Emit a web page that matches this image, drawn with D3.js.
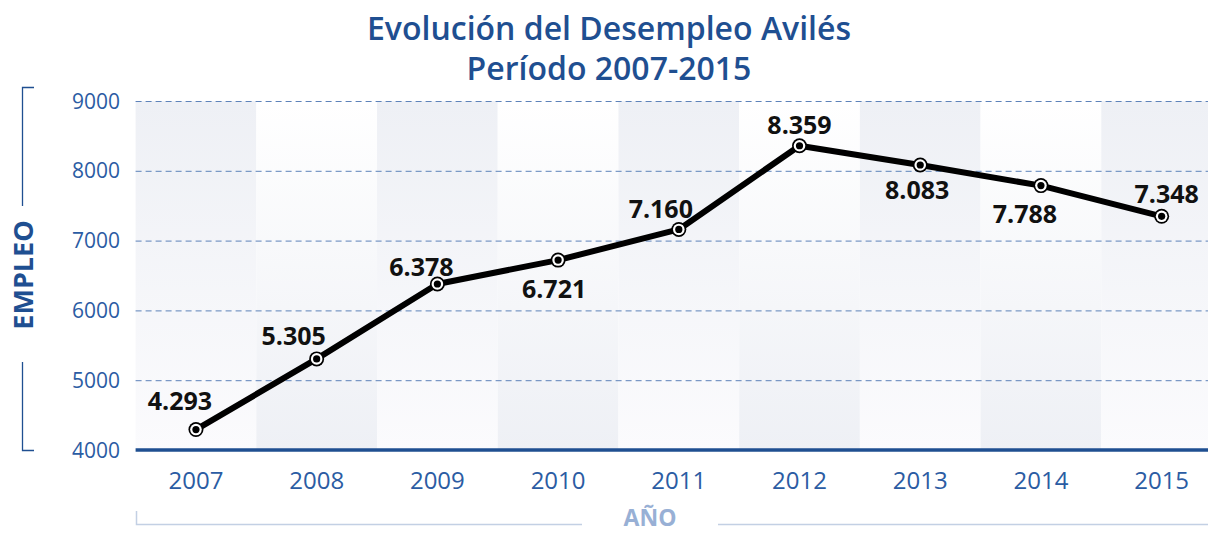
<!DOCTYPE html>
<html>
<head>
<meta charset="utf-8">
<script src="https://cdn.jsdelivr.net/npm/d3@7"></script>
<style>
  body { margin: 0; background: #fff; }
  svg { display: block; font-family: "Open Sans", "Noto Sans", sans-serif; }
</style>
</head>
<body>
<svg width="1208" height="533"></svg>
<script>
// data
const years = ["2007", "2008", "2009", "2010", "2011", "2012", "2013", "2014", "2015"];
const paro = [4293, 5305, 6378, 6721, 7160, 8359, 8083, 7788, 7348];
const yTicks = [4000, 5000, 6000, 7000, 8000, 9000];
// where each value label sits relative to its point (dx, dy of baseline)
const labelPos = [[-16, -20], [-23, -14], [-16, -8], [-4, 38], [-18, -11], [0, -12], [-3, 34], [-16, 37], [5, -13]];

const svg = d3.select("svg"),
    width = +svg.attr("width"),
    height = +svg.attr("height");

const blue = "#1f4f91";
const tickBlue = "#2b5ca3";

const x = d3.scaleBand()
    .domain(years)
    .range([135.6, 1222])
    .padding(0);
const y = d3.scaleLinear()
    .domain([4000, 9000])
    .range([450, 101]);

const fmt = d3.formatLocale({ decimal: ",", thousands: ".", grouping: [3], currency: ["", "€"] }).format(",d");

// gradients for alternating columns
const defs = svg.append("defs");
const gDown = defs.append("linearGradient").attr("id", "gradDown")
    .attr("x1", 0).attr("y1", 0).attr("x2", 0).attr("y2", 1);
gDown.append("stop").attr("offset", "0%").attr("stop-color", "#eef0f5");
gDown.append("stop").attr("offset", "100%").attr("stop-color", "#fbfbfd");
const gUp = defs.append("linearGradient").attr("id", "gradUp")
    .attr("x1", 0).attr("y1", 0).attr("x2", 0).attr("y2", 1);
gUp.append("stop").attr("offset", "0%").attr("stop-color", "#ffffff");
gUp.append("stop").attr("offset", "100%").attr("stop-color", "#eef0f5");

svg.append("g")
  .selectAll("rect")
  .data(years)
  .enter()
  .append("rect")
    .attr("x", d => x(d))
    .attr("y", y(9000))
    .attr("width", x.bandwidth())
    .attr("height", y(4000) - y(9000))
    .attr("fill", (d, i) => i % 2 === 0 ? "url(#gradDown)" : "url(#gradUp)");

// grid lines
svg.append("g")
  .selectAll("line")
  .data(yTicks.slice(1))
  .enter()
  .append("line")
    .attr("x1", x.range()[0])
    .attr("x2", width)
    .attr("y1", d => y(d) + 0.5)
    .attr("y2", d => y(d) + 0.5)
    .attr("stroke", "#5d82b9")
    .attr("stroke-width", 1)
    .attr("stroke-dasharray", "6,4");

// baseline
svg.append("line")
    .attr("x1", x.range()[0])
    .attr("x2", width)
    .attr("y1", y(4000))
    .attr("y2", y(4000))
    .attr("stroke", blue)
    .attr("stroke-width", 3.5);

// y tick labels
svg.append("g")
  .selectAll("text")
  .data(yTicks)
  .enter()
  .append("text")
    .attr("x", 120)
    .attr("y", d => y(d) + 7.5)
    .attr("text-anchor", "end")
    .style("font-size", "21px")
    .style("fill", tickBlue)
    .text(d => d);

// x tick labels
svg.append("g")
  .selectAll("text")
  .data(years)
  .enter()
  .append("text")
    .attr("x", d => x(d) + x.bandwidth() / 2)
    .attr("y", 489)
    .attr("text-anchor", "middle")
    .style("font-size", "24px")
    .style("fill", tickBlue)
    .text(d => d);

// title
const title = svg.append("text")
    .attr("x", 609)
    .attr("text-anchor", "middle")
    .style("font-size", "32px")
    .style("font-weight", "600")
    .style("fill", blue);
title.append("tspan").attr("x", 609).attr("y", 40).text("Evolución del Desempleo Avilés");
title.append("tspan").attr("x", 609).attr("y", 80).text("Período 2007-2015");

// y axis bracket and label
svg.append("path")
    .attr("d", "M34,87.5 H22.5 V206 M22.5,362 V450.5 H34")
    .attr("fill", "none")
    .attr("stroke", blue)
    .attr("stroke-width", 1.3);
svg.append("text")
    .attr("transform", "translate(33,275) rotate(-90)")
    .attr("text-anchor", "middle")
    .style("font-size", "27px")
    .style("font-weight", "bold")
    .style("fill", blue)
    .text("EMPLEO");

// x axis bracket and label
svg.append("path")
    .attr("d", "M136.5,511 V524.5 H582 M718,524.5 H1208")
    .attr("fill", "none")
    .attr("stroke", "#c3d0e4")
    .attr("stroke-width", 1.5);
svg.append("text")
    .attr("x", 650)
    .attr("y", 526)
    .attr("text-anchor", "middle")
    .style("font-size", "23px")
    .style("font-weight", "bold")
    .style("fill", "#98b0d5")
    .text("AÑO");

// line
const pts = years.map((d, i) => ({ year: d, value: paro[i], pos: labelPos[i] }));
const line = d3.line()
    .x(d => x(d.year) + x.bandwidth() / 2)
    .y(d => y(d.value));

svg.append("path")
    .datum(pts)
    .attr("d", line)
    .attr("fill", "none")
    .attr("stroke", "#000")
    .attr("stroke-width", 6)
    .attr("stroke-linejoin", "round");

// markers
const mk = svg.append("g")
  .selectAll("g")
  .data(pts)
  .enter()
  .append("g")
    .attr("transform", d => `translate(${x(d.year) + x.bandwidth() / 2},${y(d.value)})`);
mk.append("circle").attr("r", 7.5).attr("fill", "#000");
mk.append("circle").attr("r", 5.8).attr("fill", "#fff");
mk.append("circle").attr("r", 3.6).attr("fill", "#000");

// value labels
svg.append("g")
  .selectAll("text")
  .data(pts)
  .enter()
  .append("text")
    .attr("x", d => x(d.year) + x.bandwidth() / 2 + d.pos[0])
    .attr("y", d => y(d.value) + d.pos[1])
    .attr("text-anchor", "middle")
    .style("font-size", "25px")
    .style("font-weight", "bold")
    .style("fill", "#111")
    .text(d => fmt(d.value));
</script>
</body>
</html>
